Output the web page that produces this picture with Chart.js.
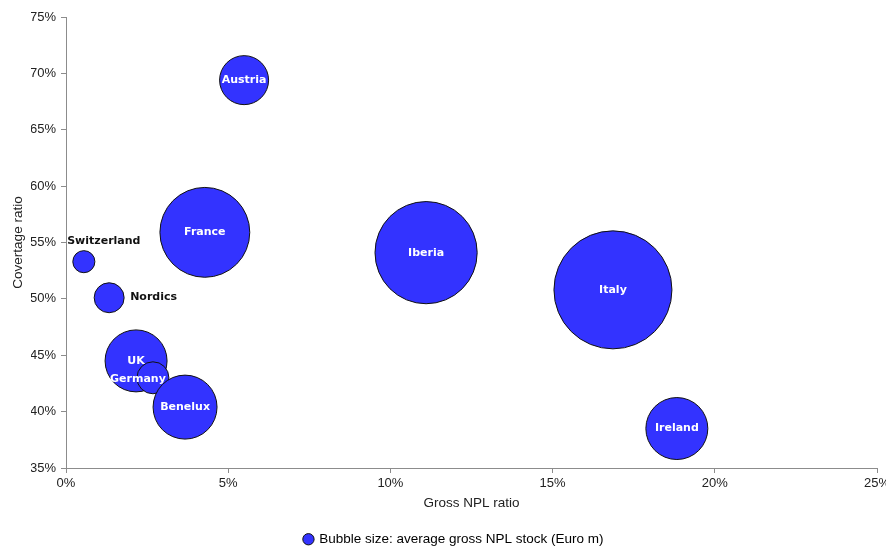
<!DOCTYPE html>
<html>
<head>
<meta charset="utf-8">
<script src="https://cdn.jsdelivr.net/npm/chart.js@4/dist/chart.umd.min.js"></script>
<style>
  html, body { margin: 0; padding: 0; background: #fff; }
  #wrap { width: 886px; height: 546px; }
</style>
</head>
<body>
<div id="wrap"><canvas id="npl"></canvas></div>
<script>
// ── Data ───────────────────────────────────────────
const countries   = ['Switzerland', 'Nordics', 'Austria', 'France', 'UK', 'Germany', 'Benelux', 'Iberia', 'Italy', 'Ireland'];
const grossNplPct = [0.55, 1.33, 5.49, 4.28, 2.16, 2.68, 3.67, 11.1, 16.86, 18.83];   // x, %
const coveragePct = [53.3, 50.1, 69.4, 55.9, 44.5, 43.0, 40.4, 54.1, 50.8, 38.5];     // y, %
const nplStock    = [7000, 12900, 34500, 116000, 55200, 14700, 58800, 150000, 200000, 55200]; // Euro m (bubble size)
const xTicks      = [0, 5, 10, 15, 20, 25];
const yTicks      = [35, 40, 45, 50, 55, 60, 65, 70, 75];

const BLUE = '#3333FF';
const AXIS = '#8c8c8c';
const TXT  = '#222';
const FONT = '"Liberation Sans", Arial, sans-serif';
const MAX_R = 59;
const maxStock = Math.max(...nplStock);

// label placement: white inside by default, a few sit outside in black
const labelStyle = {
  Switzerland: { dx: 20, dy: -21, color: '#111', align: 'center' },
  Nordics:     { dx: 21, dy: -1,  color: '#111', align: 'left' },
  Germany:     { dx: -15, dy: 1,  color: '#fff', align: 'center' },
};

const bubbleLabels = {
  id: 'bubbleLabels',
  afterDatasetsDraw(chart) {
    const { ctx } = chart;
    const meta = chart.getDatasetMeta(0);
    ctx.save();
    ctx.font = 'bold 11px "DejaVu Sans", Verdana, sans-serif';
    ctx.textBaseline = 'middle';
    meta.data.forEach((el, i) => {
      const name = countries[i];
      const s = labelStyle[name] || { dx: 0, dy: 0, color: '#fff', align: 'center' };
      ctx.fillStyle = s.color;
      ctx.textAlign = s.align;
      ctx.fillText(name, el.x + s.dx, el.y + s.dy);
    });
    ctx.restore();
  }
};

const points = countries.map((c, i) => ({ x: grossNplPct[i], y: coveragePct[i], v: nplStock[i] }));

new Chart(document.getElementById('npl'), {
  type: 'bubble',
  data: {
    datasets: [{
      label: 'Bubble size: average gross NPL stock (Euro m)',
      data: points,
      backgroundColor: BLUE,
      borderColor: '#111',
      borderWidth: 1,
      hoverBorderWidth: 1,
      clip: false,
      radius: (c) => c.raw ? Math.sqrt(c.raw.v / maxStock) * MAX_R : 5,
    }]
  },
  options: {
    responsive: true,
    maintainAspectRatio: false,
    animation: false,
    // left padding shifts the centred legend; negative bottom lets it sit near the edge
    layout: { autoPadding: false, padding: { top: 17, right: 9, left: 31, bottom: -10 } },
    plugins: {
      tooltip: { enabled: false },
      legend: {
        position: 'bottom',
        labels: {
          usePointStyle: true,
          pointStyle: 'circle',
          boxWidth: 8,
          boxHeight: 8,
          padding: 2,
          color: TXT,
          font: { family: FONT, size: 13.5 },
          generateLabels: (chart) => [{
            text: chart.data.datasets[0].label,
            fillStyle: BLUE,
            strokeStyle: '#111',
            lineWidth: 1,
            pointStyle: 'circle',
            datasetIndex: 0,
          }]
        }
      }
    },
    scales: {
      x: {
        type: 'linear',
        min: 0, max: 25,
        afterBuildTicks: (s) => { s.ticks = xTicks.map(v => ({ value: v })); },
        afterFit: (s) => {
          const lg = s.chart.legend ? s.chart.legend.height : 0;
          s.height = 546 + 10 - 468 - lg;
          s.paddingRight = 0;
        },
        grid: { drawOnChartArea: false, drawTicks: true, tickLength: 5, color: AXIS },
        border: { color: AXIS },
        ticks: {
          padding: 3, color: TXT,
          font: { family: FONT, size: 13 },
          callback: v => v + '%'
        },
        title: {
          display: true, text: 'Gross NPL ratio', color: TXT,
          font: { family: FONT, size: 13.5 },
          padding: { top: 4, bottom: 19 }
        }
      },
      y: {
        type: 'linear',
        min: 35, max: 75,
        afterBuildTicks: (s) => { s.ticks = yTicks.map(v => ({ value: v })); },
        afterFit: (s) => { s.width = 35; },
        grid: { drawOnChartArea: false, drawTicks: true, tickLength: 5, color: AXIS },
        border: { color: AXIS },
        ticks: {
          padding: 5, color: TXT,
          font: { family: FONT, size: 13 },
          callback: v => v + '%'
        },
        title: {
          display: true, text: 'Covertage ratio', color: TXT,
          font: { family: FONT, size: 13.5 },
          padding: { top: -21, bottom: 0 }
        }
      }
    }
  },
  plugins: [bubbleLabels]
});
</script>
</body>
</html>
